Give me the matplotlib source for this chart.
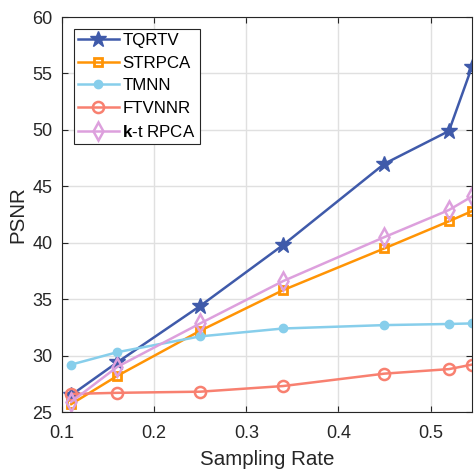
import numpy as np
import matplotlib
matplotlib.use('Agg')
import matplotlib.pyplot as plt

plt.rcParams['font.family'] = ['Liberation Sans', 'DejaVu Sans']
plt.rcParams['mathtext.fontset'] = 'custom'
plt.rcParams['mathtext.rm'] = 'Liberation Sans'
plt.rcParams['mathtext.bf'] = 'Liberation Sans:bold'

rates = [0.11, 0.16, 0.25, 0.34, 0.45, 0.52, 0.545]
tqrtv = [26.5, 29.4, 34.4, 39.8, 47.0, 49.9, 55.6]
strpca = [25.7, 28.2, 32.2, 35.8, 39.5, 41.9, 42.8]
tmnn = [29.2, 30.3, 31.7, 32.4, 32.7, 32.8, 32.85]
ftvnnr = [26.6, 26.7, 26.8, 27.3, 28.4, 28.8, 29.2]
ktrpca = [25.9, 29.0, 32.85, 36.6, 40.5, 42.9, 44.1]

ink = '#262626'

fig = plt.figure(figsize=(4.77, 4.71), dpi=100)
ax = fig.add_axes([62/477, 1 - 412/471, 410/477, 395/471])

lw = 1.8
ax.plot(rates, tqrtv, '-*', color='#3F5AAA', lw=lw, ms=12, label='TQRTV')
ax.plot(rates, strpca, '-s', color='#FF9405', lw=lw, ms=6, mfc='none', mew=2, label='STRPCA')
ax.plot(rates, tmnn, '-o', color='#87CEEB', lw=lw, ms=6, label='TMNN')
ax.plot(rates, ftvnnr, '-o', color='#F88070', lw=lw, ms=8, mfc='none', mew=1.8, label='FTVNNR')
ax.plot(rates, ktrpca, '-d', color='#DDA0DD', lw=lw, ms=9, mfc='none', mew=1.8,
        label=r'$\mathbf{k}$-t RPCA')

ax.set_xlim(0.1, 0.545)
ax.set_ylim(25, 60)
ax.set_xticks([0.1, 0.2, 0.3, 0.4, 0.5])
ax.set_xticklabels(['0.1', '0.2', '0.3', '0.4', '0.5'])
ax.set_yticks(np.arange(25, 61, 5))
ax.grid(True, color='#E0E0E0', lw=1.0)
ax.set_axisbelow(True)
ax.tick_params(direction='in', top=True, right=True, labelsize=13, colors=ink, length=4)
ax.tick_params(axis='x', pad=9.5)
ax.tick_params(axis='y', pad=7)
for s in ax.spines.values():
    s.set_color(ink)
    s.set_linewidth(0.8)

ax.set_xlabel('Sampling Rate', fontsize=14.8, color=ink, labelpad=5.5)
ax.set_ylabel('PSNR', fontsize=14.8, color=ink, labelpad=3)

leg = ax.legend(loc='upper left', bbox_to_anchor=(0.029, 0.97), fontsize=12.2,
                handlelength=2.4, fancybox=False, framealpha=1, edgecolor=ink,
                borderpad=0.25, labelspacing=0.45, handletextpad=0.2, borderaxespad=0)
leg.get_frame().set_linewidth(0.8)

fig.savefig('out.png', dpi=100)
